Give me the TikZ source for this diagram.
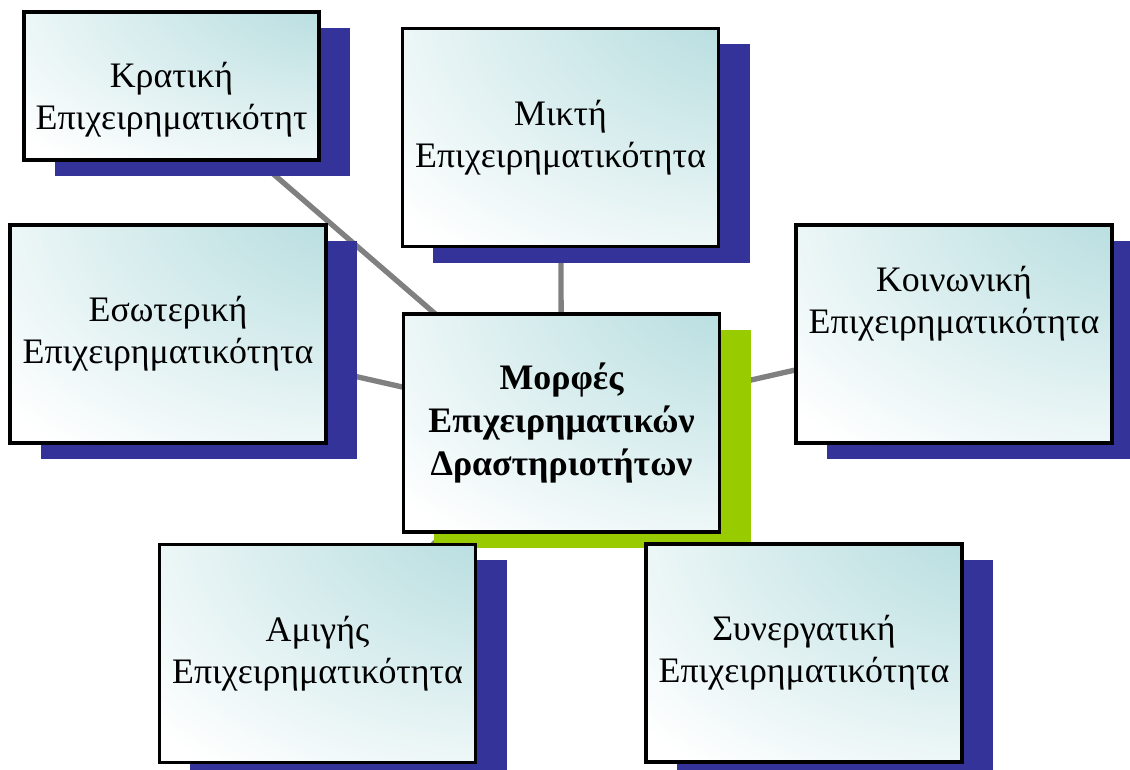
\documentclass[tikz,border=0pt]{standalone}
\usepackage{fontspec}
\setmainfont{Liberation Serif}
\usetikzlibrary{positioning, shadows, backgrounds}
\definecolor{boxTeal}{HTML}{B4DCDE}
\definecolor{shadowBlue}{HTML}{333399}
\definecolor{coreGreen}{HTML}{99CC00}
\definecolor{linkGrey}{HTML}{808080}
\pgfdeclareradialshading{tealglow}{\pgfpoint{42bp}{45bp}}{color(0bp)=(boxTeal); color(14bp)=(boxTeal); color(64bp)=(white); color(140bp)=(white)}

\begin{document}
\begin{tikzpicture}[x=0.025cm, y=-0.025cm,
    form/.style={draw=black, line width=2.4pt, shading=tealglow, minimum width=7.9cm, minimum height=5.45cm,
      align=center, inner sep=0pt, font=\fontsize{25.5}{30}\selectfont,
      drop shadow={shadow xshift=0.775cm, shadow yshift=-0.4cm, fill=#1, opacity=1}},
    form/.default=shadowBlue,
    txt/.style={align=center, inner sep=0pt, font=\fontsize{25.5}{30}\selectfont},
    link/.style={draw=linkGrey, line width=3.8pt},
]
\useasboundingbox (0,0) rectangle (1130,769);

\node[form, minimum width=7.375cm, minimum height=3.7cm] (krat) at (171.5,86) {};
\node[txt] (kratT) at ([yshift=-0.35cm]krat.center) {Κρατική\\Επιχειρηματικότητ};
\node[form] (mikt) at (560.5,137.5) {Μικτή\\Επιχειρηματικότητα};
\node[form] (esot) at (168,334) {Εσωτερική\\Επιχειρηματικότητα};
\node[form] (koin) at (954,334) {};
\node[txt] (koinT) at ([yshift=0.75cm]koin.center) {Κοινωνική\\Επιχειρηματικότητα};
\node[form=coreGreen, font=\fontsize{25.5}{30.5}\selectfont\bfseries] (core) at (561.5,423) {Μορφές\\Επιχειρηματικών\\Δραστηριοτήτων};
\node[form] (amig) at (317.5,653.5) {Αμιγής\\Επιχειρηματικότητα};
\node[form] (syne) at (804,653) {Συνεργατική\\Επιχειρηματικότητα};

% grey links behind the boxes
\begin{scope}[on background layer]
\foreach \n in {krat, mikt, esot, koin, amig, syne}
  \draw[link] (core.center) -- (\n.center);
\end{scope}
\end{tikzpicture}
\end{document}
